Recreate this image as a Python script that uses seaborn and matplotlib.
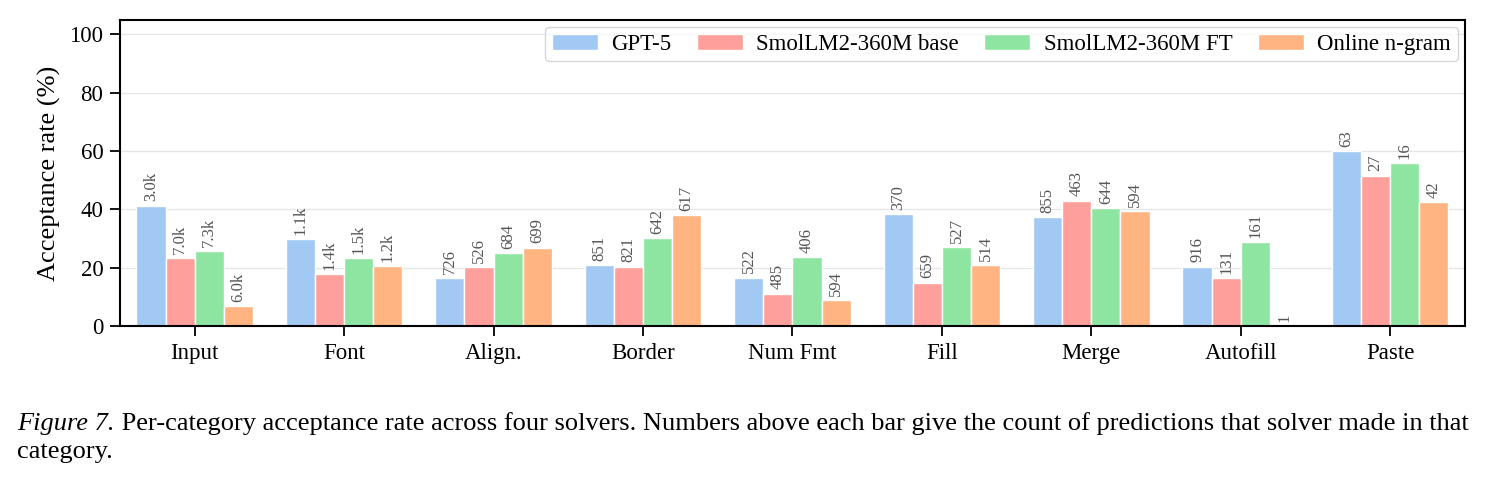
import pandas as pd
import matplotlib.pyplot as plt
import seaborn as sns

# data
categories = ["Input", "Font", "Align.", "Border", "Num Fmt", "Fill", "Merge", "Autofill", "Paste"]
solvers = ["GPT-5", "SmolLM2-360M base", "SmolLM2-360M FT", "Online n-gram"]

gpt5 = [41.3, 29.8, 16.5, 20.8, 16.6, 38.3, 37.4, 20.4, 60.1]
smol_base = [23.4, 17.9, 20.1, 20.4, 11.1, 14.9, 43.0, 16.3, 51.6]
smol_ft = [25.7, 23.3, 25.0, 30.2, 23.6, 27.0, 40.5, 28.7, 55.9]
ngram = [6.7, 20.5, 26.9, 38.0, 8.8, 20.8, 39.4, 0.0, 42.6]

gpt5_n = ["3.0k", "1.1k", "726", "851", "522", "370", "855", "916", "63"]
smol_base_n = ["7.0k", "1.4k", "526", "821", "485", "659", "463", "131", "27"]
smol_ft_n = ["7.3k", "1.5k", "684", "642", "406", "527", "644", "161", "16"]
ngram_n = ["6.0k", "1.2k", "699", "617", "594", "514", "594", "1", "42"]

rates = [gpt5, smol_base, smol_ft, ngram]
counts = [gpt5_n, smol_base_n, smol_ft_n, ngram_n]

# long format for seaborn
rows = []
for s, vals in zip(solvers, rates):
    for c, v in zip(categories, vals):
        rows.append({"category": c, "solver": s, "rate": v})
df = pd.DataFrame(rows)

sns.set_theme(style="whitegrid")
plt.rcParams["font.family"] = ["Liberation Serif", "DejaVu Serif"]
for k in ["text.color", "axes.labelcolor", "xtick.color", "ytick.color"]:
    plt.rcParams[k] = "black"

pastel = sns.color_palette("pastel")
palette = [pastel[0], pastel[3], pastel[2], pastel[1]]

fig = plt.figure(figsize=(14.91, 4.83), dpi=100)
ax = fig.add_axes([0.0805, 0.325, 0.902, 0.634])

sns.barplot(data=df, x="category", y="rate", hue="solver", palette=palette,
            saturation=1, width=0.78, edgecolor="white", linewidth=1, ax=ax)

# prediction counts above the bars
for cont, labs in zip(ax.containers, counts):
    ax.bar_label(cont, labels=labs, rotation=90, padding=3, fontsize=12, color="#555555")

ax.set_ylim(0, 105)
ax.set_yticks([0, 20, 40, 60, 80, 100])
ax.set_xlim(-0.5, len(categories) - 0.5)
ax.set_xlabel("")
ax.set_ylabel("Acceptance rate (%)", fontsize=19, labelpad=6)
ax.tick_params(axis="both", labelsize=16.5, length=7, width=1.3, color="black",
               bottom=True, left=True, pad=5)
ax.grid(axis="x", visible=False)
ax.grid(axis="y", color="#e6e6e6", linewidth=1)
ax.set_facecolor("white")
for sp in ax.spines.values():
    sp.set_color("black")
    sp.set_linewidth(1.5)

ax.legend(loc="upper right", ncol=4, fontsize=16.5, frameon=True, edgecolor="#cccccc",
          handlelength=2.0, handletextpad=0.6, columnspacing=1.1, borderpad=0.3,
          borderaxespad=0.3, fancybox=True)

# caption: italic "Figure 7." then plain text
t1 = fig.text(0.0115, 0.11, "Figure 7.", fontsize=19, ha="left", style="italic")
ax.annotate(" Per-category acceptance rate across four solvers. "
            "Numbers above each bar give the count of predictions that solver made in that",
            xy=(1, 0), xycoords=t1, ha="left", va="bottom", fontsize=19,
            annotation_clip=False)
fig.text(0.0115, 0.052, "category.", fontsize=19, ha="left")

plt.savefig("out.png", dpi=100)
